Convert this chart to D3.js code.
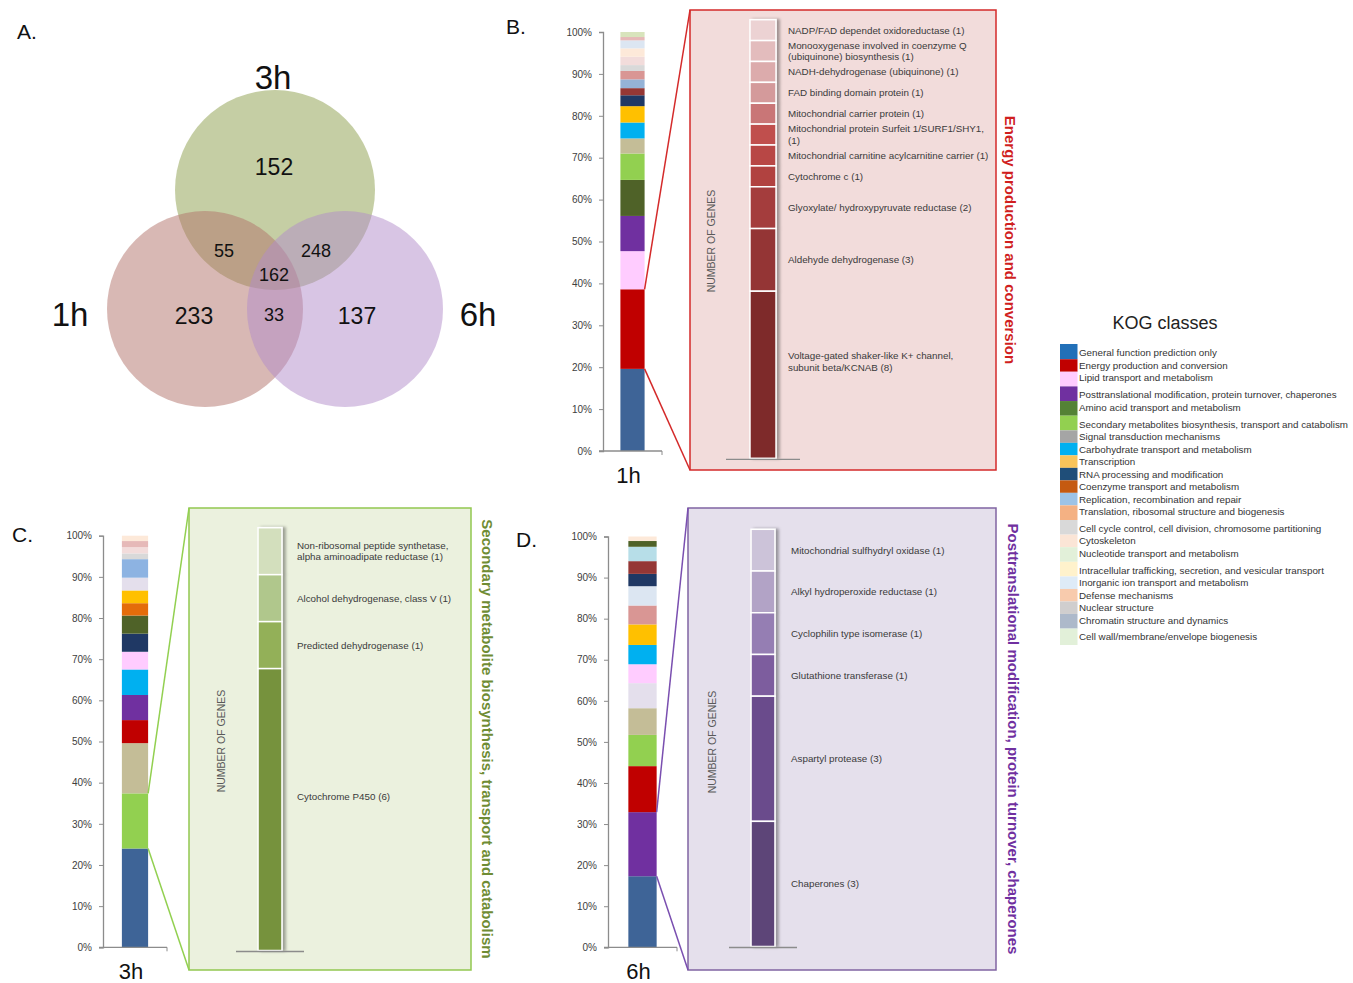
<!DOCTYPE html>
<html><head><meta charset="utf-8">
<script src="https://cdn.jsdelivr.net/npm/d3@7"></script>
<style>body{margin:0;background:#fff}svg{display:block;font-family:"Liberation Sans",Arial,sans-serif}</style>
</head><body>
<script>
// ---------------- DATA ----------------
const vennSets = ["1h", "3h", "6h"];
const vennRegions = [["1h"], ["3h"], ["6h"], ["1h","3h"], ["3h","6h"], ["1h","6h"], ["1h","3h","6h"]];
const vennCounts = [233, 152, 137, 55, 248, 33, 162];

const timePoints = ["1h", "3h", "6h"];
// KOG class share (%) of each stacked segment, bottom to top
const share1h = [19.6, 19.0, 9.1, 8.4, 8.6, 6.3, 3.6, 3.8, 3.9, 2.6, 1.7, 2.1, 2.0, 1.4, 2.0, 2.0, 1.9, 0.8, 1.2];
const share3h = [24.0, 13.4, 12.2, 5.6, 6.1, 6.2, 4.3, 4.4, 4.4, 3.0, 3.1, 3.1, 4.5, 1.4, 1.5, 1.5, 1.3];
const share6h = [17.3, 15.6, 11.2, 7.6, 6.5, 6.1, 4.6, 4.7, 5.0, 4.6, 4.7, 3.0, 3.1, 3.5, 1.4, 1.1];
const percentTicks = [0, 10, 20, 30, 40, 50, 60, 70, 80, 90, 100];

const energyGenes = ["NADP/FAD dependet oxidoreductase (1)",
  "Monooxygenase involved in coenzyme Q\n(ubiquinone) biosynthesis (1)",
  "NADH-dehydrogenase (ubiquinone) (1)", "FAD binding domain protein (1)",
  "Mitochondrial carrier protein (1)", "Mitochondrial protein Surfeit 1/SURF1/SHY1,\n(1)",
  "Mitochondrial carnitine acylcarnitine carrier (1)", "Cytochrome c (1)",
  "Glyoxylate/ hydroxypyruvate reductase (2)", "Aldehyde dehydrogenase (3)",
  "Voltage-gated shaker-like K+ channel,\nsubunit beta/KCNAB (8)"];
const energyCounts = [1, 1, 1, 1, 1, 1, 1, 1, 2, 3, 8];

const secondaryGenes = ["Non-ribosomal peptide synthetase,\nalpha aminoadipate reductase (1)",
  "Alcohol dehydrogenase, class V (1)", "Predicted dehydrogenase (1)", "Cytochrome P450 (6)"];
const secondaryCounts = [1, 1, 1, 6];

const posttransGenes = ["Mitochondrial sulfhydryl oxidase (1)", "Alkyl hydroperoxide reductase (1)",
  "Cyclophilin type isomerase (1)", "Glutathione transferase (1)", "Aspartyl protease (3)", "Chaperones (3)"];
const posttransCounts = [1, 1, 1, 1, 3, 3];

const kogClasses = ["General function prediction only", "Energy production and conversion",
  "Lipid transport and metabolism", "Posttranslational modification, protein turnover, chaperones",
  "Amino acid transport and metabolism", "Secondary metabolites biosynthesis, transport and catabolism",
  "Signal transduction mechanisms", "Carbohydrate transport and metabolism", "Transcription",
  "RNA processing and modification", "Coenzyme transport and metabolism",
  "Replication, recombination and repair", "Translation, ribosomal structure and biogenesis",
  "Cell cycle control, cell division, chromosome partitioning", "Cytoskeleton",
  "Nucleotide transport and metabolism", "Intracellular trafficking, secretion, and vesicular transport",
  "Inorganic ion transport and metabolism", "Defense mechanisms", "Nuclear structure",
  "Chromatin structure and dynamics", "Cell wall/membrane/envelope biogenesis"];

// ---------------- STYLES ----------------
const colors1h = ["#3e6497","#c00000","#ffccff","#7030a0","#4f6228","#92d050","#c4bd97","#00b0f0","#ffc000","#1f3864","#953735","#95b3d7","#d99694","#d9d9d9","#f2dcdb","#fde9d9","#dce6f2","#e6b9b8","#d8e4bc"];
const colors3h = ["#3e6497","#92d050","#c4bd97","#c00000","#7030a0","#00b0f0","#ffccff","#1f3864","#4f6228","#e46c0a","#ffc000","#e4dfec","#8db3e2","#d9d9d9","#f2dcdb","#e6b9b8","#fde9d9"];
const colors6h = ["#3e6497","#7030a0","#c00000","#92d050","#c4bd97","#e4dfec","#ffccff","#00b0f0","#ffc000","#d99694","#dce6f2","#1f3864","#953735","#b7dee8","#4f6228","#fde9d9"];
const energyColors = ["#ecd2d3","#e3bcbd","#dcabac","#d49a9b","#c97677","#c0504d","#b84744","#b14241","#a43c3c","#943434","#7e2c2c"];
const secondaryColors = ["#d3dfbd","#b0c78c","#93b058","#76923c"];
const posttransColors = ["#ccc3d9","#b2a3c6","#957eb3","#7d5d9e","#6a4c8c","#5d4478"];
const kogColors = ["#2270b8","#c00000","#ffccff","#7030a0","#548235","#92d050","#a5a5a5","#00b0f0","#f8c45a","#1f4e79","#c55a11","#9dc3e6","#f4b183","#d9d9d9","#fbe5d6","#e2f0d9","#fff2cc","#deebf7","#f8cbad","#d0cece","#adb9ca","#e2f0d9"];
const vennColors = {"1h": "#b1716a", "3h": "#8b9d49", "6h": "#b18bc9"};

const FONT = '"Liberation Sans", Arial, sans-serif';
const svg = d3.select("body").append("svg").attr("width", 1353).attr("height", 983);
const defs = svg.append("defs");
defs.append("filter").attr("id", "shadow").attr("x", "-30%").attr("width", "180%")
  .append("feDropShadow").attr("dx", 3).attr("dy", 0).attr("stdDeviation", 1.6)
  .attr("flood-color", "#000").attr("flood-opacity", 0.35);

// ---------------- PANEL LETTERS ----------------
[["A.", 17, 39], ["B.", 506, 34], ["C.", 12, 542], ["D.", 516, 547]].forEach(([t, x, y]) =>
  svg.append("text").attr("x", x).attr("y", y).attr("font-size", 21).attr("fill", "#111").text(t));

// ---------------- VENN ----------------
const vennLayout = {"1h": {x: 205, y: 309, r: 98}, "3h": {x: 275, y: 190, r: 100}, "6h": {x: 345, y: 309, r: 98}};
const vg = svg.append("g");
["3h", "1h", "6h"].forEach(s => {
  const c = vennLayout[s];
  vg.append("circle").attr("cx", c.x).attr("cy", c.y).attr("r", c.r)
    .attr("fill", vennColors[s]).attr("fill-opacity", 0.5);
});
const setLabelPos = {"1h": [70, 326], "3h": [273, 89], "6h": [478, 326]};
vennSets.forEach(s => vg.append("text").attr("x", setLabelPos[s][0]).attr("y", setLabelPos[s][1])
  .attr("text-anchor", "middle").attr("font-size", 33).attr("fill", "#111").text(s));
const regionNudge = [[-11, 7], [-1, -23], [12, 7], [-16, 1], [6, 1], [-1, 6], [-1, 6]];
vennRegions.forEach((reg, i) => {
  const cx = d3.mean(reg, s => vennLayout[s].x) + regionNudge[i][0];
  const cy = d3.mean(reg, s => vennLayout[s].y) + regionNudge[i][1];
  vg.append("text").attr("x", cx).attr("y", cy).attr("text-anchor", "middle")
    .attr("dominant-baseline", "central").attr("font-size", reg.length === 1 ? 23 : 18)
    .attr("fill", "#111").text(vennCounts[i]);
});

// ---------------- STACKED PERCENT BARS ----------------
function percentBar(opts) {
  const {label, shares, colors, axisX, endX, top, bottom, hl, box, stroke} = opts;
  const g = svg.append("g");
  const y = d3.scaleLinear().domain([0, 100]).range([bottom, top]);
  const x = d3.scaleBand().domain([label]).range([axisX, endX]).paddingInner(0.5).paddingOuter(0.36);
  const cum = d3.cumsum(shares);
  const segs = shares.map((v, i) => ({v, i, y0: cum[i] - v, y1: cum[i]}));
  g.selectAll("rect").data(segs).join("rect")
    .attr("x", x(label)).attr("width", x.bandwidth())
    .attr("y", d => y(d.y1)).attr("height", d => y(d.y0) - y(d.y1))
    .attr("fill", d => colors[d.i]);
  const ax = g.append("g").attr("transform", `translate(${axisX},0)`)
    .call(d3.axisLeft(y).tickValues(percentTicks).tickFormat(d => d + "%").tickSize(4).tickPadding(7));
  ax.select(".domain").attr("stroke", "#8c8c8c").attr("stroke-width", 1.3);
  ax.selectAll(".tick line").attr("stroke", "#8c8c8c");
  ax.selectAll("text").attr("font-size", 10).attr("fill", "#404040").attr("font-family", FONT);
  g.append("line").attr("x1", axisX - 4).attr("x2", endX).attr("y1", bottom).attr("y2", bottom)
    .attr("stroke", "#8c8c8c").attr("stroke-width", 1.3);
  g.append("line").attr("x1", endX).attr("x2", endX).attr("y1", bottom).attr("y2", bottom + 4)
    .attr("stroke", "#8c8c8c");
  g.append("text").attr("x", x(label) + x.bandwidth() / 2 - 4).attr("y", bottom + 32)
    .attr("text-anchor", "middle").attr("font-size", 22).attr("fill", "#111").text(label);
  const s = segs[hl];
  const bx = x(label) + x.bandwidth();
  g.append("line").attr("x1", bx).attr("y1", y(s.y1)).attr("x2", box.x).attr("y2", box.y)
    .attr("stroke", stroke).attr("stroke-width", 1.5);
  g.append("line").attr("x1", bx).attr("y1", y(s.y0)).attr("x2", box.x).attr("y2", box.y + box.h)
    .attr("stroke", stroke).attr("stroke-width", 1.5);
}

// ---------------- DETAIL BOXES ----------------
function detailBox(opts) {
  const {box, fill, stroke, genes, counts, colors, barRange, barTop, barBottom, labelX, genesX, genesY, title, titleX, titleColor} = opts;
  const g = svg.append("g");
  g.append("rect").attr("x", box.x).attr("y", box.y).attr("width", box.w).attr("height", box.h)
    .attr("fill", fill).attr("stroke", stroke).attr("stroke-width", 1.5);
  const total = d3.sum(counts);
  const y = d3.scaleLinear().domain([0, total]).range([barBottom, barTop]);
  const x = d3.scaleBand().domain([title]).range(barRange).paddingOuter(0.92);
  const before = d3.cumsum(counts);
  const segs = counts.map((c, i) => ({c, i, hi: total - (before[i] - c), lo: total - before[i]}));
  const bars = g.append("g").attr("filter", "url(#shadow)");
  bars.selectAll("rect").data(segs).join("rect")
    .attr("x", x(title)).attr("width", x.bandwidth())
    .attr("y", d => y(d.hi)).attr("height", d => y(d.lo) - y(d.hi))
    .attr("fill", d => colors[d.i]).attr("stroke", "#fff").attr("stroke-width", 1.5);
  g.append("line").attr("x1", barRange[0]).attr("x2", barRange[1]).attr("y1", barBottom + 1).attr("y2", barBottom + 1)
    .attr("stroke", "#8c8c8c").attr("stroke-width", 1.3);
  segs.forEach(d => {
    const lines = genes[d.i].split("\n");
    const cy = (y(d.hi) + y(d.lo)) / 2 - (d.c >= 6 ? 13 : 0);
    const t = g.append("text").attr("x", labelX).attr("font-size", 9.8).attr("fill", "#3a3a3a");
    lines.forEach((ln, k) => t.append("tspan").attr("x", labelX)
      .attr("y", cy + (k - (lines.length - 1) / 2) * 11.5 + 3.4).text(ln));
  });
  g.append("text").attr("transform", `translate(${genesX},${genesY}) rotate(-90)`)
    .attr("text-anchor", "middle").attr("dominant-baseline", "central")
    .attr("font-size", 10.5).attr("fill", "#595959").text("NUMBER OF GENES");
  g.append("text").attr("transform", `translate(${titleX},${(box.y + box.h / 2)}) rotate(90)`)
    .attr("text-anchor", "middle").attr("dominant-baseline", "central")
    .attr("font-size", 15).attr("font-weight", "bold").attr("fill", titleColor).text(title);
}

const boxB = {x: 690, y: 10, w: 306, h: 460};
const boxC = {x: 189, y: 508, w: 282, h: 462};
const boxD = {x: 688, y: 508, w: 308, h: 462};

detailBox({box: boxB, fill: "#f2dcdb", stroke: "#d42a2a", genes: energyGenes, counts: energyCounts,
  colors: energyColors, barRange: [726, 800], barTop: 19.7, barBottom: 458.3, labelX: 788,
  genesX: 711, genesY: 241, title: "Energy production and conversion", titleX: 1010, titleColor: "#d01f1f"});
detailBox({box: boxC, fill: "#ebf1de", stroke: "#92c750", genes: secondaryGenes, counts: secondaryCounts,
  colors: secondaryColors, barRange: [236, 304], barTop: 527.7, barBottom: 950.5, labelX: 297,
  genesX: 221, genesY: 741, title: "Secondary metabolite biosynthesis, transport and catabolism", titleX: 487, titleColor: "#6f8c34"});
detailBox({box: boxD, fill: "#e5e0ec", stroke: "#8064a2", genes: posttransGenes, counts: posttransCounts,
  colors: posttransColors, barRange: [729, 797], barTop: 529.3, barBottom: 946.5, labelX: 791,
  genesX: 712, genesY: 742, title: "Posttranslational modification, protein turnover, chaperones", titleX: 1013, titleColor: "#7030a0"});

percentBar({label: timePoints[0], shares: share1h, colors: colors1h, axisX: 603, endX: 662, top: 32, bottom: 451,
  hl: 1, box: boxB, stroke: "#d42a2a"});
percentBar({label: timePoints[1], shares: share3h, colors: colors3h, axisX: 103, endX: 167, top: 535.7, bottom: 947.3,
  hl: 1, box: boxC, stroke: "#92d050"});
percentBar({label: timePoints[2], shares: share6h, colors: colors6h, axisX: 608, endX: 677, top: 536.5, bottom: 947.3,
  hl: 1, box: boxD, stroke: "#7a4fb0"});

// ---------------- LEGEND ----------------
const lg = svg.append("g");
lg.append("text").attr("x", 1165).attr("y", 329).attr("text-anchor", "middle").attr("font-size", 18)
  .attr("fill", "#222").text("KOG classes");
const gapBefore = new Set([3, 5, 13, 16, 21]);
const rowY = [];
kogClasses.forEach((k, i) => { rowY.push(i === 0 ? 353 : rowY[i - 1] + 12.5 + (gapBefore.has(i) ? 4.3 : 0)); });
kogClasses.forEach((k, i) => {
  const y0 = i === 0 ? rowY[0] - 9 : (rowY[i - 1] + rowY[i]) / 2;
  const y1 = i === kogClasses.length - 1 ? rowY[i] + 8 : (rowY[i] + rowY[i + 1]) / 2;
  lg.append("rect").attr("x", 1060).attr("y", y0).attr("width", 17.5).attr("height", y1 - y0).attr("fill", kogColors[i]);
  lg.append("text").attr("x", 1079).attr("y", rowY[i] + 3.4).attr("font-size", 9.8).attr("fill", "#333").text(k);
});
</script>
</body></html>
